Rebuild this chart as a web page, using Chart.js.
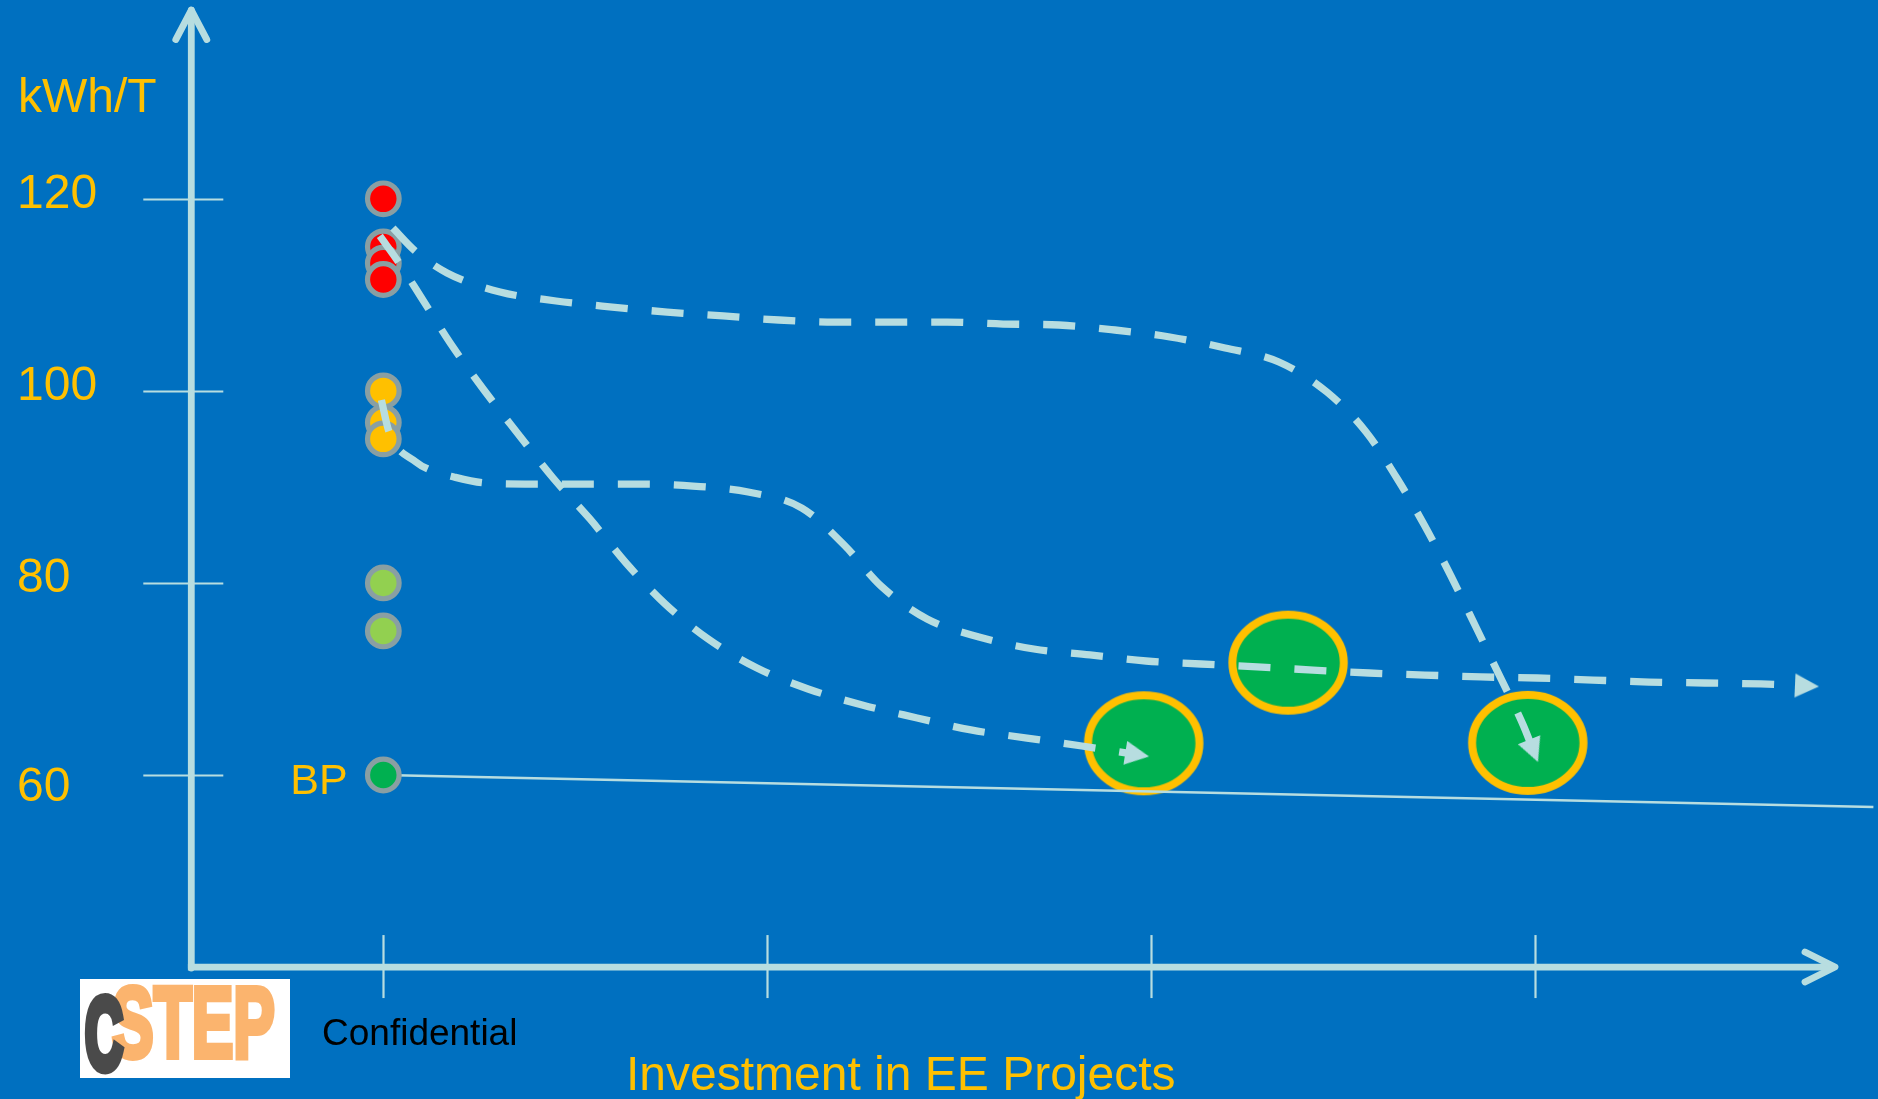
<!DOCTYPE html>
<html>
<head>
<meta charset="utf-8">
<title>Energy efficiency pathways</title>
<script src="https://cdn.jsdelivr.net/npm/chart.js@4.4.1/dist/chart.umd.min.js"></script>
<style>
  html, body { margin: 0; padding: 0; background: #0070C0; overflow: hidden; }
  #wrap { width: 1878px; height: 1099px; position: relative; }
  canvas { display: block; }
</style>
</head>
<body>
<div id="wrap"><canvas id="chart" width="1878" height="1099"></canvas></div>
<script>
// ---- Data -------------------------------------------------------------
// Specific energy consumption (kWh/T) of plants before investment
const redLevels = [120, 115, 113.3, 111.6];
const amberLevels = [100, 96.7, 95];
const greenLevels = [80, 75];
const bestPractice = 60;
const startPosition = 1;

// Outcomes of the EE projects (investment step, kWh/T)
const projectX = [2.98, 3.356, 3.98];
const projectY = [63.3, 71.7, 63.35];

// Best-practice trend line
const bpLineX = [1, 4.88];
const bpLineY = [60, 56.67];

// Pathway from the high consumers, slow then steep reduction
const pathAX = [1.025, 1.083, 1.166, 1.304, 1.45, 1.596, 1.739, 1.885, 2.03, 2.176, 2.322, 2.468, 2.614,
                2.759, 2.905, 3.048, 3.192, 3.332, 3.457, 3.559, 3.639, 3.712, 3.78, 3.845, 3.908, 3.968, 3.995];
const pathAY = [116.96, 114.57, 112.28, 110.3, 109.36, 108.73, 108.21, 107.8, 107.38, 107.17, 107.17, 107.17, 106.96,
                106.86, 106.34, 105.61, 104.47, 103.01, 99.88, 95.72, 90.93, 85.93, 80.72, 75.41, 70.21, 65.21, 62.51];

// Pathway from the medium consumers
const pathBX = [0.995, 1.015, 1.085, 1.122, 1.184, 1.265, 1.369, 1.515, 1.661, 1.806, 1.95, 2.09, 2.2, 2.296, 2.416,
                2.551, 2.694, 2.84, 2.986, 3.129, 3.275, 3.421, 3.567, 3.712, 3.858, 4.004, 4.15, 4.296, 4.441, 4.587, 4.707];
const pathBY = [99.05, 95.72, 92.59, 91.76, 91.03, 90.41, 90.3, 90.3, 90.3, 90.09, 89.47, 87.8, 83.95, 79.68, 76.24,
                74.37, 73.12, 72.5, 71.87, 71.56, 71.25, 70.93, 70.62, 70.41, 70.21, 70.1, 69.89, 69.68, 69.58, 69.48, 69.27];

// Pathway from the high consumers, fast reduction
const pathCX = [0.991, 1.041, 1.098, 1.176, 1.262, 1.351, 1.442, 1.538, 1.632, 1.734, 1.846, 1.973, 2.106, 2.247,
                2.39, 2.53, 2.676, 2.819, 2.963];
const pathCY = [116.13, 113.32, 109.78, 104.88, 100.09, 95.51, 90.93, 86.66, 82.08, 77.81, 74.16, 71.14, 68.96, 67.29,
                65.94, 64.69, 63.85, 63.02, 62.12];

// Axis ticks and texts
const yTicks = [60, 80, 100, 120];
const xTicks = [1, 2, 3, 4];
const yTitle = 'kWh/T';
const xTitle = 'Investment in EE Projects';
const bpLabel = 'BP';
const footerNote = 'Confidential';
const logoInitial = 'C';
const logoWord = 'STEP';

// ---- Styles -----------------------------------------------------------
const BG = '#0070C0';
const LIGHT = '#B7DDE0';
const YELLOW = '#FFC000';
const RING = '#899FA3';
const FONT = '"Liberation Sans", Arial, sans-serif';

const pts = (xs, ys) => xs.map((x, i) => ({ x, y: ys[i] }));

function makeEllipse() {
  const c = document.createElement('canvas');
  c.width = 124; c.height = 108;
  const g = c.getContext('2d');
  g.beginPath();
  g.ellipse(62, 54, 55.7, 48, 0, 0, Math.PI * 2);
  g.fillStyle = '#00B050';
  g.fill();
  g.lineWidth = 8;
  g.strokeStyle = YELLOW;
  g.stroke();
  return c;
}

function makeArrowHead() {
  const c = document.createElement('canvas');
  c.width = 24; c.height = 24;
  const g = c.getContext('2d');
  g.beginPath();
  g.moveTo(0, 0); g.lineTo(24, 12); g.lineTo(0, 24); g.closePath();
  g.fillStyle = LIGHT;
  g.fill();
  return c;
}

const ellipseImg = makeEllipse();
const arrowImg = makeArrowHead();

// Direction of the last segment of a pathway, in degrees
function endAngle(ctx) {
  const d = ctx.chart.data.datasets[ctx.datasetIndex].data;
  const n = d.length;
  const xs = ctx.chart.scales.x, ys = ctx.chart.scales.y;
  const dx = xs.getPixelForValue(d[n - 1].x) - xs.getPixelForValue(d[n - 2].x);
  const dy = ys.getPixelForValue(d[n - 1].y) - ys.getPixelForValue(d[n - 2].y);
  return Math.atan2(dy, dx) * 180 / Math.PI;
}

function pathway(xs, ys) {
  return {
    type: 'line',
    data: pts(xs, ys),
    borderColor: LIGHT,
    borderWidth: 7.3,
    borderDash: [32, 24],
    borderCapStyle: 'butt',
    cubicInterpolationMode: 'monotone',
    fill: false,
    clip: false,
    order: 1,
    pointStyle: arrowImg,
    pointRadius: ctx => (ctx.dataIndex === xs.length - 1 ? 12 : 0),
    pointRotation: ctx => endAngle(ctx),
    pointBorderWidth: 0,
    pointBackgroundColor: LIGHT
  };
}

const markerX = [];
const markerY = [];
const markerFill = [];
[[redLevels, '#FF0000'], [amberLevels, '#FFC000'], [greenLevels, '#92D050'], [[bestPractice], '#00B050']]
  .forEach(([levels, colour]) => levels.forEach(v => {
    markerX.push(startPosition); markerY.push(v); markerFill.push(colour);
  }));

// Bold block lettering for the logo, squeezed to a given width
function blockText(ctx, text, x, baseline, size, width, fill, weight) {
  ctx.save();
  ctx.font = 'bold ' + size + 'px "Liberation Sans Narrow", "Liberation Sans", sans-serif';
  const w = ctx.measureText(text).width;
  ctx.translate(x, baseline);
  ctx.scale(width / w, 1);
  ctx.lineJoin = 'miter';
  ctx.lineWidth = weight;
  ctx.strokeStyle = fill;
  ctx.strokeText(text, 0, 0);
  ctx.fillStyle = fill;
  ctx.fillText(text, 0, 0);
  ctx.restore();
}

// Axes, ticks, texts and logo
const decor = {
  id: 'decor',
  beforeDraw(chart) {
    const ctx = chart.ctx;
    ctx.save();
    ctx.fillStyle = BG;
    ctx.fillRect(0, 0, chart.width, chart.height);
    ctx.restore();
  },
  beforeDatasetsDraw(chart) {
    const ctx = chart.ctx;
    const xs = chart.scales.x, ys = chart.scales.y;
    const area = chart.chartArea;
    const ax = area.left;            // vertical axis position
    const ay = area.bottom;          // horizontal axis position
    const xEnd = xs.getPixelForValue(4.78);
    ctx.save();

    // tick marks
    ctx.strokeStyle = LIGHT;
    ctx.lineWidth = 2.2;
    ctx.lineCap = 'butt';
    yTicks.forEach(v => {
      const y = Math.round(ys.getPixelForValue(v)) + 0.5;
      ctx.beginPath(); ctx.moveTo(ax - 48, y); ctx.lineTo(ax + 32, y); ctx.stroke();
    });
    xTicks.forEach(v => {
      const x = Math.round(xs.getPixelForValue(v)) + 0.5;
      ctx.beginPath(); ctx.moveTo(x, ay - 32); ctx.lineTo(x, ay + 31); ctx.stroke();
    });

    // axes with open arrow heads
    ctx.lineWidth = 6.8;
    ctx.lineCap = 'round';
    ctx.lineJoin = 'round';
    const top = area.top + 3.3;
    ctx.beginPath(); ctx.moveTo(ax, ay + 1); ctx.lineTo(ax, top); ctx.stroke();
    ctx.beginPath(); ctx.moveTo(ax - 15.5, top + 29.5); ctx.lineTo(ax, top); ctx.lineTo(ax + 15.5, top + 29.5); ctx.stroke();
    ctx.lineCap = 'butt';
    ctx.beginPath(); ctx.moveTo(ax - 3.4, ay); ctx.lineTo(xEnd, ay); ctx.stroke();
    ctx.lineCap = 'round';
    ctx.beginPath(); ctx.moveTo(xEnd - 30, ay - 15); ctx.lineTo(xEnd, ay); ctx.lineTo(xEnd - 30, ay + 15); ctx.stroke();

    // tick labels and titles
    ctx.fillStyle = YELLOW;
    ctx.textBaseline = 'alphabetic';
    ctx.textAlign = 'left';
    ctx.font = '48px ' + FONT;
    yTicks.forEach((v, i) => {
      const y = ys.getPixelForValue(v);
      ctx.fillText(String(v), 17, y + (i === 0 ? 26 : 9));
    });
    ctx.fillText(yTitle, 18, 112);
    ctx.fillText(xTitle, 626, 1090);

    ctx.font = '43px ' + FONT;
    ctx.fillText(bpLabel, xs.getPixelForValue(startPosition) - 93, ys.getPixelForValue(bestPractice) + 19);

    ctx.fillStyle = '#000000';
    ctx.font = '37px ' + FONT;
    ctx.fillText(footerNote, 322, 1045);

    // logo
    ctx.fillStyle = '#FFFFFF';
    ctx.fillRect(80, 979, 210, 99);
    let grad = ctx.createLinearGradient(0, 985, 0, 1060);
    grad.addColorStop(0, '#FBB46E');
    grad.addColorStop(0.15, '#F9A142');
    grad.addColorStop(0.5, '#F99C3C');
    grad.addColorStop(0.52, '#F68B1C');
    grad.addColorStop(1, '#F2861B');
    blockText(ctx, logoWord, 112, 1057, 100, 163, grad, 6);
    grad = ctx.createLinearGradient(0, 997, 0, 1073);
    grad.addColorStop(0, '#4A4A4A');
    grad.addColorStop(0.4, '#262626');
    grad.addColorStop(0.55, '#050505');
    grad.addColorStop(1, '#000000');
    blockText(ctx, logoInitial, 85, 1069, 102, 38, grad, 9);

    ctx.restore();
  }
};

new Chart(document.getElementById('chart'), {
  type: 'scatter',
  data: {
    datasets: [
      {
        label: 'Projects',
        data: pts(projectX, projectY),
        pointStyle: ellipseImg,
        pointRadius: 10,
        clip: false,
        order: 5
      },
      {
        type: 'line',
        label: 'Best practice',
        data: pts(bpLineX, bpLineY),
        borderColor: LIGHT,
        borderWidth: 2.5,
        pointRadius: 0,
        tension: 0,
        clip: false,
        order: 4
      },
      {
        label: 'Plants',
        data: pts(markerX, markerY),
        pointRadius: 15.8,
        pointBorderWidth: 5.2,
        pointBorderColor: RING,
        pointBackgroundColor: markerFill,
        clip: false,
        order: 3
      },
      Object.assign(pathway(pathAX, pathAY), { label: 'Pathway A' }),
      Object.assign(pathway(pathBX, pathBY), { label: 'Pathway B' }),
      Object.assign(pathway(pathCX, pathCY), { label: 'Pathway C' })
    ]
  },
  options: {
    responsive: false,
    animation: false,
    events: [],
    layout: { autoPadding: false, padding: { left: 191.3, right: 4.6, top: 6.76, bottom: 131.94 } },
    scales: {
      x: { type: 'linear', min: 0.5, max: 4.88, display: false },
      y: { type: 'linear', min: 40, max: 140, display: false }
    },
    plugins: {
      legend: { display: false },
      tooltip: { enabled: false }
    }
  },
  plugins: [decor]
});
</script>
</body>
</html>
